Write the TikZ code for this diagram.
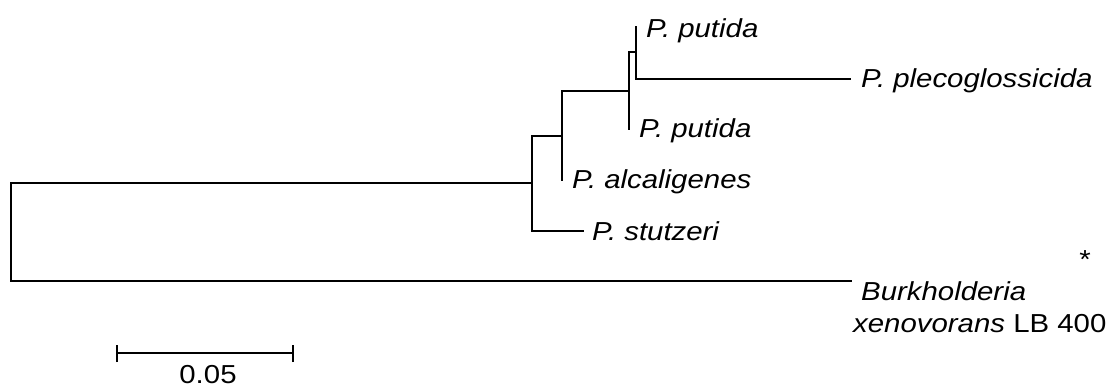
\documentclass[tikz,border=0pt]{standalone}
\usepackage{fontspec}
\setmainfont{Liberation Sans}[FakeStretch=1.13]
\begin{document}
\begin{tikzpicture}[x=1pt,y=-1pt,
  branch/.style={line width=1.3pt,line cap=rect},
  leaf/.style={anchor=base west,inner sep=0pt,font=\fontsize{26}{32}\selectfont\itshape},
  plain/.style={inner sep=0pt,font=\fontsize{26}{32}\selectfont}]
\useasboundingbox (0,0) rectangle (1110,388);
% internal points
\coordinate (r1) at (11,183);
\coordinate (r2) at (11,281);
\coordinate (a) at (532,183);
\coordinate (a1) at (532,136);
\coordinate (a2) at (532,231);
\coordinate (st) at (583,231);
\coordinate (b) at (562,136);
\coordinate (b1) at (562,91);
\coordinate (al) at (562,180);
\coordinate (c) at (629,91);
\coordinate (c1) at (629,52);
\coordinate (pu2) at (629,129);
\coordinate (d) at (636,52);
\coordinate (pu1) at (636,27);
\coordinate (d2) at (636,79);
\coordinate (pl) at (850,79);
\coordinate (bu) at (851,281);
% tree
\draw[branch] (r1) -- (r2);
\draw[branch] (r1) -- (a);
\draw[branch] (a1) -- (a2);
\draw[branch] (a2) -- (st);
\draw[branch] (a1) -- (b);
\draw[branch] (b1) -- (al);
\draw[branch] (b1) -- (c);
\draw[branch] (c1) -- (pu2);
\draw[branch] (c1) -- (d);
\draw[branch] (pu1) -- (d2);
\draw[branch] (d2) -- (pl);
\draw[branch] (r2) -- (bu);
% labels
\node[leaf] (lpu1) at (646,37) {P. putida};
\node[leaf] (lpl) at (861,87) {P. plecoglossicida};
\node[leaf] (lpu2) at (639,137) {P. putida};
\node[leaf] (lal) at (572,188) {P. alcaligenes};
\node[leaf] (lst) at (592,240) {P. stutzeri};
\node[leaf] (lbu1) at (861,300) {Burkholderia};
\node[leaf] (lbu2) at (853,332) {xenovorans\/ \upshape LB 400};
\node[plain,anchor=base] (ast) at (1085,268) {*};
% scale bar
\coordinate (s1) at (117,353);
\coordinate (s2) at (293,353);
\draw[branch,line cap=butt] (s1) -- (s2);
\draw[branch,line cap=butt] ([yshift=-9pt]s1) -- ([yshift=8pt]s1);
\draw[branch,line cap=butt] ([yshift=-9pt]s2) -- ([yshift=8pt]s2);
\node[plain,anchor=base] (sl) at (208,383) {0.05};
\end{tikzpicture}
\end{document}
